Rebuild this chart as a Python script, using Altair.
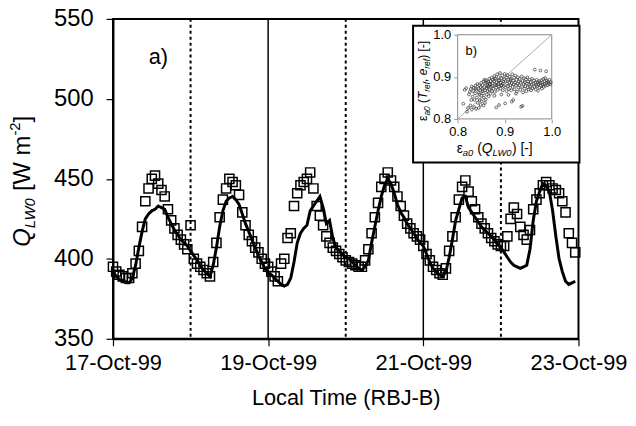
import altair as alt
import pandas as pd

FONT = "Liberation Sans"

# ---------------- main series (hourly, 17-Oct-99 00:00 .. 22-Oct-99 23:00) ----------------
obs = [
    395, 392, 390, 389, 388, 388, 391, 397, 405, 420, 436, 444, 450, 452, 447, 443, 439, 431, 424, 419, 415, 412, 409, 406,
    421, 400, 397, 395, 393, 391, 389, 398, 410, 426, 437, 444, 450, 448, 446, 440, 429, 421, 415, 411, 407, 404, 400, 397,
    395, 392, 389, 386, 397, 400, 413, 416, 433, 441, 446, 448, 450, 454, 444, 433, 427, 421, 414, 410, 407, 405, 403, 401,
    399, 398, 397, 396, 395, 395, 399, 406, 416, 426, 435, 445, 450, 454, 449, 445, 439, 433, 427, 422, 419, 416, 414, 412,
    408, 403, 399, 395, 393, 391, 390, 394, 405, 414, 426, 437, 445, 449, 442, 436, 431, 426, 422, 419, 416, 413, 411, 409,
    408, 408, 414, 425, 432, 428, 420, 415, 412, 418, 431, 437, 441, 446, 448, 446, 444, 443, 441, 436, 429, 416, 410, 404,
]
mod = [
    392, 389, 387, 386, 385, 385, 388, 396, 407, 417, 425, 428, 430, 431, 433, 432, 431, 426, 422, 418, 415, 412, 410, 408,
    405, 402, 399, 396, 393, 391, 389, 396, 407, 420, 430, 436, 438, 439, 437, 434, 428, 422, 417, 412, 407, 402, 398, 394,
    391, 390, 388, 386, 384, 383, 384, 388, 398, 410, 416, 419, 421, 430, 433, 436, 439, 432, 422, 424, 413, 407, 405, 403,
    401, 400, 398, 396, 394, 393, 395, 399, 410, 420, 430, 439, 446, 450, 447, 441, 434, 429, 426, 422, 419, 416, 413, 410,
    408, 403, 398, 394, 392, 390, 389, 392, 401, 412, 424, 431, 438, 439, 432, 429, 426, 423, 420, 418, 416, 414, 412, 409,
    407, 404, 401, 398, 396, 395, 394, 395, 396, 406, 424, 436, 442, 447, 446, 442, 430, 414, 400, 392, 386, 384, 385, 386,
]
times = pd.date_range("1999-10-17T00:00:00", periods=len(obs), freq="h").strftime("%Y-%m-%dT%H:%M:%SZ").tolist()

dotted_days = ["1999-10-18T00:00:00Z", "1999-10-20T00:00:00Z", "1999-10-22T00:00:00Z"]
solid_days = ["1999-10-19T00:00:00Z", "1999-10-21T00:00:00Z"]
tick_dates = [17, 19, 21, 23]
y_ticks = [350, 400, 450, 500, 550]

# ---------------- inset scatter ----------------
ex = [0.812, 0.815, 0.818, 0.820, 0.822, 0.824, 0.826, 0.827, 0.828, 0.829, 0.830, 0.830,
      0.832, 0.833, 0.834, 0.835, 0.836, 0.837, 0.838, 0.839, 0.840, 0.841, 0.842, 0.843, 0.844, 0.845, 0.845, 0.846,
      0.847, 0.848, 0.849, 0.849, 0.850, 0.850, 0.838, 0.846,
      0.851, 0.852, 0.853, 0.854, 0.855, 0.856, 0.857, 0.858, 0.859, 0.860, 0.860, 0.861, 0.862, 0.863, 0.864, 0.865,
      0.866, 0.866, 0.867, 0.868, 0.869, 0.870, 0.870, 0.853, 0.857, 0.862, 0.864, 0.868, 0.855, 0.858,
      0.871, 0.872, 0.873, 0.874, 0.875, 0.876, 0.877, 0.878, 0.879, 0.880, 0.881, 0.882, 0.883, 0.884, 0.885, 0.886,
      0.887, 0.888, 0.889, 0.890, 0.891, 0.892, 0.893, 0.894, 0.895, 0.896, 0.897, 0.898, 0.899, 0.900, 0.874, 0.879,
      0.883, 0.887, 0.892, 0.896, 0.882, 0.888, 0.878, 0.893,
      0.901, 0.902, 0.903, 0.904, 0.905, 0.906, 0.907, 0.908, 0.909, 0.910, 0.911, 0.912, 0.913, 0.914, 0.915, 0.916,
      0.917, 0.918, 0.919, 0.920, 0.921, 0.922, 0.923, 0.924, 0.925, 0.926, 0.927, 0.928, 0.929, 0.930, 0.901, 0.915,
      0.918, 0.908, 0.924, 0.912,
      0.931, 0.932, 0.933, 0.934, 0.935, 0.936, 0.937, 0.938, 0.939, 0.940, 0.941, 0.942, 0.943, 0.944, 0.945, 0.946,
      0.947, 0.948, 0.949, 0.950, 0.951, 0.952, 0.953, 0.954, 0.955, 0.956, 0.957, 0.958, 0.959, 0.938,
      0.961, 0.962, 0.963, 0.964, 0.965, 0.966, 0.967, 0.968, 0.969, 0.970, 0.971, 0.972, 0.973, 0.974, 0.975, 0.976,
      0.977, 0.978, 0.979, 0.980, 0.981, 0.982, 0.983, 0.984, 0.985, 0.986, 0.987, 0.988, 0.989, 0.990, 0.991, 0.992,
      0.994, 0.995, 0.997, 0.998]
ey = [0.836, 0.869, 0.873, 0.817, 0.826, 0.858, 0.864, 0.832, 0.871, 0.845, 0.822, 0.877,
      0.853, 0.866, 0.874, 0.828, 0.845, 0.861, 0.879, 0.824, 0.869, 0.851, 0.883, 0.838, 0.872, 0.826, 0.862, 0.880,
      0.845, 0.868, 0.833, 0.876, 0.855, 0.886, 0.872, 0.858,
      0.842, 0.871, 0.880, 0.861, 0.889, 0.850, 0.875, 0.868, 0.884, 0.846, 0.892, 0.873, 0.858, 0.880, 0.866, 0.888,
      0.854, 0.877, 0.895, 0.869, 0.882, 0.860, 0.890, 0.866, 0.893, 0.886, 0.876, 0.884, 0.832, 0.838,
      0.876, 0.898, 0.866, 0.885, 0.893, 0.872, 0.889, 0.902, 0.864, 0.881, 0.895, 0.874, 0.887, 0.906, 0.869, 0.883,
      0.899, 0.877, 0.891, 0.909, 0.872, 0.886, 0.897, 0.880, 0.903, 0.868, 0.889, 0.878, 0.894, 0.907, 0.878, 0.896,
      0.880, 0.891, 0.879, 0.884, 0.827, 0.833, 0.855, 0.858,
      0.875, 0.890, 0.899, 0.866, 0.884, 0.904, 0.878, 0.893, 0.871, 0.887, 0.900, 0.880, 0.895, 0.868, 0.885, 0.906,
      0.876, 0.891, 0.882, 0.898, 0.870, 0.886, 0.903, 0.879, 0.893, 0.865, 0.884, 0.899, 0.875, 0.889, 0.837, 0.841,
      0.845, 0.857, 0.860, 0.892,
      0.880, 0.895, 0.869, 0.886, 0.829, 0.901, 0.876, 0.890, 0.863, 0.883, 0.897, 0.872, 0.887, 0.878, 0.894, 0.866,
      0.884, 0.899, 0.875, 0.889, 0.870, 0.882, 0.893, 0.877, 0.887, 0.868, 0.881, 0.895, 0.873, 0.831,
      0.884, 0.891, 0.876, 0.917, 0.886, 0.870, 0.881, 0.893, 0.878, 0.887, 0.867, 0.883, 0.890, 0.875, 0.885, 0.915,
      0.879, 0.892, 0.872, 0.886, 0.881, 0.895, 0.876, 0.889, 0.883, 0.897, 0.879, 0.913, 0.886, 0.891, 0.880, 0.888,
      0.884, 0.893, 0.882, 0.887]
diag = [0.8, 1.0]
inset_ticks = [0.8, 0.9, 1.0]

# ---------------- main layers ----------------
main_df = pd.DataFrame({"t": times, "obs": obs, "mod": mod})

x_main = alt.Scale(type="utc",
                   domain=[alt.DateTime(year=1999, month=10, date=17, utc=True),
                           alt.DateTime(year=1999, month=10, date=23, utc=True)])
y_main = alt.Scale(domain=[350, 550], zero=False, nice=False)

ax_x = alt.Axis(values=[alt.DateTime(year=1999, month=10, date=d, utc=True) for d in tick_dates],
                format="%d-%b-%y", tickSize=7, tickColor="black", tickWidth=1.2,
                labelFontSize=22, labelPadding=7, labelColor="black", labelFont=FONT,
                labelFlush=False, labelOverlap=False,
                title="Local Time (RBJ-B)", titleFontSize=22, titleFontWeight="normal",
                titleColor="black", titleFont=FONT, titlePadding=14, grid=False,
                domainColor="black", domainWidth=2)
ax_y = alt.Axis(values=y_ticks, tickSize=7, tickColor="black", tickWidth=1.2,
                labelFontSize=24, labelPadding=13, labelColor="black", labelFont=FONT,
                labelFlush=False, labelOverlap=False,
                title=None, grid=False, domainColor="black", domainWidth=2)

squares = alt.Chart(main_df).mark_point(shape="square", filled=False, size=85,
                                        stroke="black", strokeWidth=1.5, opacity=1).encode(
    x=alt.X("t:T", scale=x_main, axis=ax_x),
    y=alt.Y("obs:Q", scale=y_main, axis=ax_y),
)
line = alt.Chart(main_df).mark_line(color="black", strokeWidth=3).encode(
    x=alt.X("t:T", scale=x_main, axis=ax_x),
    y=alt.Y("mod:Q", scale=y_main, axis=ax_y),
)
rules_dot = alt.Chart(pd.DataFrame({"t": dotted_days})).mark_rule(
    color="black", strokeWidth=2, strokeDash=[3, 3]).encode(
    x=alt.X("t:T", scale=x_main, axis=ax_x))
rules_solid = alt.Chart(pd.DataFrame({"t": solid_days})).mark_rule(
    color="black", strokeWidth=1.5).encode(
    x=alt.X("t:T", scale=x_main, axis=ax_x))

main = alt.layer(rules_dot, rules_solid, squares, line)

# ---------------- inset ----------------
x_ins = alt.Scale(domain=[0.8, 1.0], range=[348, 443], zero=False, nice=False)
y_ins = alt.Scale(domain=[0.8, 1.0], range=[101, 16], zero=False, nice=False)
ax_ix = alt.Axis(values=inset_ticks, format=".1f", orient="bottom", offset=-222, tickSize=4,
                 tickColor="#999999", labelFontSize=13, labelPadding=3, labelColor="black",
                 labelFont=FONT, labelFlush=False, labelOverlap=False,
                 domain=False, grid=False, title=None, zindex=2)
ax_iy = alt.Axis(values=inset_ticks, format=".1f", orient="left", offset=-348, tickSize=4,
                 tickColor="#999999", labelFontSize=13, labelPadding=3, labelColor="black",
                 labelFont=FONT, labelFlush=False, labelOverlap=False,
                 domain=False, grid=False, title=None, zindex=2)

box = alt.Chart(pd.DataFrame({"a": [0]})).mark_rect(fill="white", stroke="black", strokeWidth=2).encode(
    x=alt.value(303), x2=alt.value(471), y=alt.value(7), y2=alt.value(145))

frame = alt.Chart(pd.DataFrame({"x0": [diag[0]], "x1": [diag[1]], "y0": [diag[0]], "y1": [diag[1]]})).mark_rect(
    fill="white", fillOpacity=0, stroke="#888888", strokeWidth=1, strokeOpacity=1).encode(
    x=alt.X("x0:Q", scale=x_ins, axis=ax_ix), x2="x1:Q",
    y=alt.Y("y0:Q", scale=y_ins, axis=ax_iy), y2="y1:Q")
diag_line = alt.Chart(pd.DataFrame({"x0": diag, "y0": diag})).mark_line(color="#aaaaaa", strokeWidth=1).encode(
    x=alt.X("x0:Q", scale=x_ins, axis=ax_ix),
    y=alt.Y("y0:Q", scale=y_ins, axis=ax_iy))
scatter = alt.Chart(pd.DataFrame({"x0": ex, "y0": ey})).mark_point(
    shape="circle", filled=False, size=8, strokeWidth=0.7, color="#333333", opacity=1).encode(
    x=alt.X("x0:Q", scale=x_ins, axis=ax_ix),
    y=alt.Y("y0:Q", scale=y_ins, axis=ax_iy))

inset = alt.layer(frame, diag_line, scatter)

# ---------------- rich text (sub/superscripts) ----------------
CW = {"Q": .778, "L": .556, "W": .944, "0": .556, "[": .278, "]": .278, "m": .833, "-": .333,
      "2": .556, "ε": .446, "a": .556, "(": .333, ")": .333, "T": .611, "r": .333, "e": .556,
      "f": .278, ",": .278, " ": .278, "b": .556}


def tw(s, fs):
    return sum(CW.get(c, .556) for c in s) * fs


def run(x0, y0, parts, rotated=False):
    layers = []
    pos = y0 if rotated else x0
    for s, fs, it, dy in parts:
        w = tw(s, fs)
        if s.strip():
            m = alt.Chart(pd.DataFrame({"a": [0]})).mark_text(
                text=s, fontSize=fs, font=FONT, fontStyle="italic" if it else "normal",
                align="left", baseline="alphabetic", angle=270 if rotated else 0, color="black")
            if rotated:
                layers.append(m.encode(x=alt.value(x0 + dy), y=alt.value(pos)))
            else:
                layers.append(m.encode(x=alt.value(pos), y=alt.value(y0 + dy)))
        pos = pos - w if rotated else pos + w
    return layers


texts = []
texts += run(-84, 230, [("Q", 24, True, 0), ("LW0", 15, True, 5), (" ", 24, False, 0), ("[W", 24, False, 0),
                        (" ", 24, False, 0), ("m", 24, False, 0), ("-2", 15, False, -10), ("]", 24, False, 0)],
             rotated=True)
texts += run(36, 46, [("a)", 22, False, 0)])

inset_texts = []
inset_texts += run(356, 36, [("b)", 13, False, 0)])
inset_texts += run(347, 135, [("ε", 14, False, 0), ("a0", 9.5, True, 3), (" ", 14, False, 0), ("(", 14, False, 0),
                              ("Q", 14, True, 0), ("LW0", 9.5, True, 3), (")", 14, False, 0), (" ", 14, False, 0),
                              ("[-]", 14, False, 0)])
inset_texts += run(317, 103, [("ε", 12, False, 0), ("a0", 8.5, True, 3), (" ", 12, False, 0), ("(", 12, False, 0),
                              ("T", 12, True, 0), ("ref", 8.5, True, 3), (",", 12, False, 0), (" ", 12, False, 0),
                              ("e", 12, True, 0), ("ref", 8.5, True, 3), (")", 12, False, 0), (" ", 12, False, 0),
                              ("[-]", 12, False, 0)], rotated=True)

chart = alt.layer(main, box, inset, *texts, *inset_texts).resolve_scale(
    x="independent", y="independent"
).properties(
    width=470, height=323,
    padding={"left": 106, "top": 9, "right": 50, "bottom": 80},
    autosize=alt.AutoSizeParams(type="none"),
    background="white",
).configure_view(stroke="black", strokeWidth=2)

chart.save("out.html", embed_options={"renderer": "svg", "actions": False})
